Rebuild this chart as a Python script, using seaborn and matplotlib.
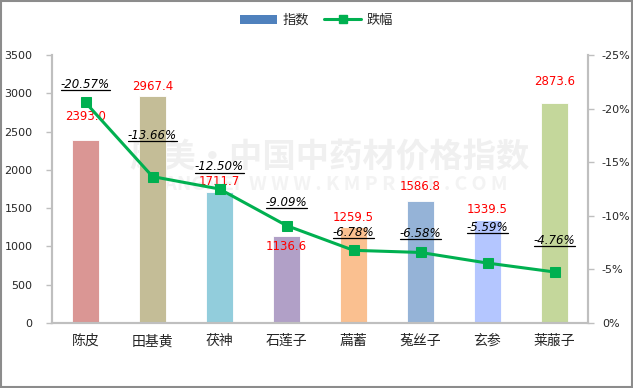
import numpy as np
import pandas as pd
import matplotlib
matplotlib.use("Agg")
import matplotlib.pyplot as plt
import seaborn as sns
from matplotlib.patches import Patch, Rectangle
from matplotlib.lines import Line2D

# 数据
categories = ["陈皮", "田基黄", "茯神", "石莲子", "萹蓄", "菟丝子", "玄参", "莱菔子"]
index_values = [2393.0, 2967.4, 1711.7, 1136.6, 1259.5, 1586.8, 1339.5, 2873.6]
drop_pct = [-20.57, -13.66, -12.50, -9.09, -6.78, -6.58, -5.59, -4.76]
left_ticks = [0, 500, 1000, 1500, 2000, 2500, 3000, 3500]
right_ticks = [0, 5, 10, 15, 20, 25]

bar_colors = ["#DA9694", "#C4BD97", "#92CDDC", "#B1A0C7",
              "#FAC090", "#95B3D7", "#B4C6FF", "#C4D79B"]
line_color = "#00B050"

# 标签偏移(像素)
bar_label_dy = [23, 9, 10, -11, 9, 15, 11, 21]
pct_label_dy = [18, 41, 22, 23, 18, 19, 36, 31]

df = pd.DataFrame({"品种": categories, "指数": index_values,
                   "跌幅": [-v for v in drop_pct]})

sns.set_theme(style="white")
plt.rcParams["font.family"] = ["Noto Sans CJK SC", "DejaVu Sans"]

fig = plt.figure(figsize=(6.33, 3.88), dpi=100)
ax = fig.add_axes([52 / 633, 65 / 388, 536 / 633, 268 / 388])

# 水印(放在柱子后面)
ax.text(0.52, 0.595, "康美·中国中药材价格指数", ha="center", va="center",
        fontsize=24, fontweight="bold", color="#F0F0F0", zorder=0,
        transform=fig.transFigure)
ax.text(0.52, 0.525, "KANGMEI  W W W . K M P R I C E . C O M", ha="center",
        va="center", fontsize=14, fontweight="bold", color="#F3F3F3",
        zorder=0, transform=fig.transFigure)

sns.barplot(data=df, x="品种", y="指数", hue="品种", palette=bar_colors,
            width=0.4, legend=False, ax=ax, edgecolor="white", linewidth=0.6,
            saturation=1, zorder=2)
ax.set_ylim(0, 3500)
ax.set_xlim(-0.5, len(categories) - 0.5)
ax.set_yticks(left_ticks)
ax.set_yticklabels([str(t) for t in left_ticks], fontsize=8,
                   family="DejaVu Sans")
ax.set_xlabel("")
ax.set_ylabel("")
ax.set_xticks(range(len(categories)))
ax.set_xticklabels(categories, fontsize=10)
ax.tick_params(axis="x", length=0, pad=8)
ax.tick_params(axis="y", length=4, width=1, color="#BFBFBF", direction="out",
               pad=10)
# 类别分隔刻度
ax.set_xticks(np.arange(-0.5, len(categories), 1), minor=True)
ax.tick_params(axis="x", which="minor", length=5, width=1, color="#BFBFBF",
               direction="out")

for side in ["left", "bottom", "right"]:
    ax.spines[side].set_color("#BFBFBF")
    ax.spines[side].set_linewidth(1.5)
ax.spines["top"].set_visible(False)

for i, v in enumerate(index_values):
    ax.annotate(f"{v:.1f}", (i, v), xytext=(0, bar_label_dy[i]),
                textcoords="offset pixels", ha="center", va="center",
                color="#FF0000", fontsize=8.5, family="DejaVu Sans", zorder=5)

ax2 = ax.twinx()
sns.lineplot(x=np.arange(len(categories)), y=df["跌幅"], ax=ax2,
             color=line_color, linewidth=2.2, marker="s", markersize=7,
             markeredgecolor=line_color, zorder=4)
ax2.set_ylim(0, 25)
ax2.set_yticks(right_ticks)
ax2.set_yticklabels(["0%" if t == 0 else f"-{t}%" for t in right_ticks],
                    fontsize=8, family="DejaVu Sans")
ax2.set_ylabel("")
ax2.tick_params(axis="y", length=4, width=1, color="#BFBFBF", direction="out",
                pad=6)
for side in ["left", "bottom", "right"]:
    ax2.spines[side].set_color("#BFBFBF")
    ax2.spines[side].set_linewidth(1.5)
ax2.spines["top"].set_visible(False)
ax2.set_xlim(-0.5, len(categories) - 0.5)

pct_texts = []
for i, v in enumerate(drop_pct):
    t = ax2.annotate(f"{v:.2f}%", (i, -v), xytext=(0, pct_label_dy[i]),
                     textcoords="offset pixels", ha="center", va="center",
                     color="black", fontsize=8.5, style="italic",
                     family="DejaVu Sans", zorder=6)
    pct_texts.append(t)

handles = [Patch(facecolor="#4F81BD", edgecolor="none"),
           Line2D([0], [0], color=line_color, linewidth=2.2, marker="s",
                  markersize=6)]
fig.legend(handles, ["指数", "跌幅"], loc="center", bbox_to_anchor=(0.5, 0.947),
           ncol=2, frameon=False, fontsize=9.5, handlelength=2.8,
           columnspacing=1.2, handletextpad=0.4)

# 下划线
fig.canvas.draw()
renderer = fig.canvas.get_renderer()
inv = fig.transFigure.inverted()
for t in pct_texts:
    bb = t.get_window_extent(renderer)
    (x0, y0), (x1, _) = inv.transform([(bb.x0, bb.y0 + 1), (bb.x1, bb.y0 + 1)])
    fig.add_artist(Line2D([x0, x1], [y0, y0], color="black", linewidth=0.9,
                          transform=fig.transFigure, zorder=7))

# 外框
fig.add_artist(Rectangle((0.002, 0.003), 0.996, 0.994, transform=fig.transFigure,
                         fill=False, edgecolor="#8C8C8C", linewidth=1.5))

fig.savefig("out.png", dpi=100)
